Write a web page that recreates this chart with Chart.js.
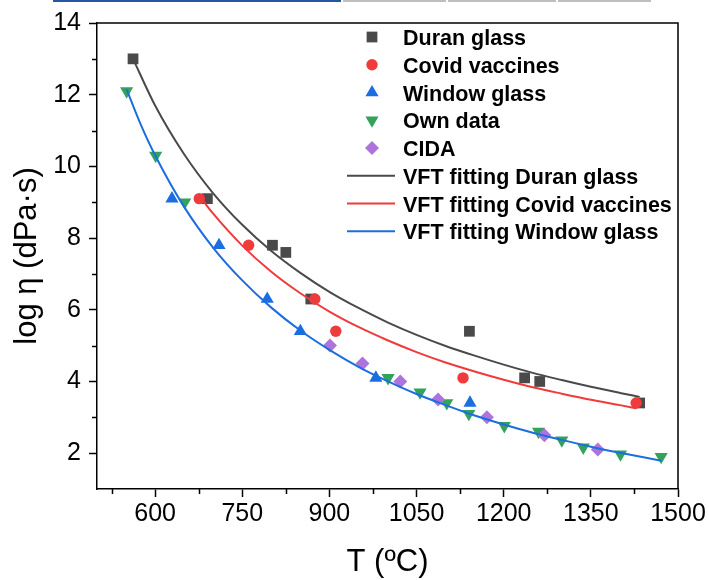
<!DOCTYPE html>
<html>
<head>
<meta charset="utf-8">
<script src="https://cdn.jsdelivr.net/npm/chart.js@4/dist/chart.umd.min.js"></script>
<style>
  html, body { margin: 0; padding: 0; background: #fff; }
</style>
</head>
<body>
<canvas id="vftChart" width="709" height="580"></canvas>
<script>
// measured viscosity points, T in ºC, log eta in dPa·s
var duranT = [562, 690, 802, 825, 868, 1141, 1236, 1262, 1434];
var duranLogEta = [13.0, 9.1, 7.8, 7.6, 6.3, 5.4, 4.1, 4.0, 3.4];

var covidT = [676, 761, 875, 911, 1130, 1428];
var covidLogEta = [9.1, 7.8, 6.3, 5.4, 4.1, 3.4];

var windowT = [629, 710, 793, 850, 980, 1142];
var windowLogEta = [9.1, 7.8, 6.3, 5.4, 4.1, 3.4];

var ownT = [551, 601, 651, 1001, 1056, 1102, 1140, 1201, 1260, 1300, 1337, 1401, 1471];
var ownLogEta = [12.1, 10.3, 9.0, 4.1, 3.7, 3.4, 3.1, 2.76, 2.6, 2.36, 2.16, 1.97, 1.9];

var cidaT = [901, 957, 1022, 1087, 1171, 1270, 1362];
var cidaLogEta = [5.0, 4.5, 4.0, 3.5, 3.0, 2.5, 2.1];

// VFT fitted curves, sampled along T
var duranFitT = [562, 600, 650, 700, 750, 800, 850, 900, 950, 1000, 1050, 1100, 1150, 1200, 1250, 1300, 1350, 1400, 1434];
var duranFitLogEta = [13.0, 11.7, 10.34, 9.25, 8.37, 7.64, 7.03, 6.5, 6.05, 5.65, 5.3, 4.99, 4.72, 4.47, 4.24, 4.04, 3.85, 3.68, 3.57];

var covidFitT = [676, 700, 750, 800, 850, 900, 950, 1000, 1050, 1100, 1150, 1200, 1250, 1300, 1350, 1400, 1428];
var covidFitLogEta = [9.18, 8.68, 7.79, 7.06, 6.46, 5.95, 5.52, 5.15, 4.82, 4.53, 4.28, 4.05, 3.84, 3.66, 3.49, 3.34, 3.25];

var windowFitT = [551, 575, 600, 650, 700, 750, 800, 850, 900, 950, 1000, 1050, 1100, 1150, 1200, 1250, 1300, 1350, 1400, 1471];
var windowFitLogEta = [12.15, 11.18, 10.31, 8.87, 7.73, 6.82, 6.06, 5.42, 4.88, 4.41, 4.01, 3.65, 3.34, 3.05, 2.8, 2.57, 2.37, 2.18, 2.01, 1.79];

// axis ticks
var xTicks = [600, 750, 900, 1050, 1200, 1350, 1500];
var xMinorTicks = [525, 675, 825, 975, 1125, 1275, 1425];
var yTicks = [2, 4, 6, 8, 10, 12, 14];
var yMinorTicks = [3, 5, 7, 9, 11, 13];

var FONT = '"Liberation Sans", Arial, sans-serif';

function pts(xs, ys) {
    return xs.map(function (x, i) { return { x: x, y: ys[i] }; });
}

function drawMarker(ctx, style, rot, x, y, r) {
    ctx.beginPath();
    if (style === 'circle') {
        ctx.arc(x, y, r, 0, Math.PI * 2);
    } else if (style === 'rect') {
        var s = r * Math.SQRT1_2;
        ctx.rect(x - s, y - s, 2 * s, 2 * s);
    } else if (style === 'rectRot') {
        ctx.moveTo(x - r, y);
        ctx.lineTo(x, y - r);
        ctx.lineTo(x + r, y);
        ctx.lineTo(x, y + r);
        ctx.closePath();
    } else if (style === 'triangle') {
        var d = rot === 180 ? -1 : 1;
        ctx.moveTo(x, y - d * r);
        ctx.lineTo(x + 0.866 * r, y + d * 0.5 * r);
        ctx.lineTo(x - 0.866 * r, y + d * 0.5 * r);
        ctx.closePath();
    }
    ctx.fill();
}

// frame, minor ticks, legend box and the strip at the very top
var extrasPlugin = {
    id: 'extras',
    beforeDraw: function (chart) {
        var ctx = chart.ctx;
        ctx.save();
        ctx.fillStyle = '#2456a5';
        ctx.fillRect(53, 0, 288, 2);
        ctx.fillStyle = '#bebebe';
        ctx.fillRect(343, 0, 103, 2);
        ctx.fillRect(448, 0, 108, 2);
        ctx.fillRect(558, 0, 93, 2);
        ctx.restore();
    },
    afterDraw: function (chart) {
        var ctx = chart.ctx, a = chart.chartArea;
        var xs = chart.scales.x, ys = chart.scales.y;
        ctx.save();
        ctx.strokeStyle = '#000';
        ctx.lineWidth = 1.5;
        ctx.beginPath();
        ctx.moveTo(a.left, a.top);
        ctx.lineTo(a.right, a.top);
        ctx.lineTo(a.right, a.bottom);
        ctx.stroke();

        ctx.beginPath();
        xMinorTicks.forEach(function (v) {
            var px = Math.round(xs.getPixelForValue(v)) + 0.5;
            ctx.moveTo(px, a.bottom);
            ctx.lineTo(px, a.bottom + 5);
        });
        yMinorTicks.forEach(function (v) {
            var py = Math.round(ys.getPixelForValue(v)) + 0.5;
            ctx.moveTo(a.left, py);
            ctx.lineTo(a.left - 5, py);
        });
        ctx.stroke();

        // legend
        var lx = 372, ly = 37, step = 27.75;
        ctx.font = 'bold 21.5px ' + FONT;
        ctx.textAlign = 'left';
        ctx.textBaseline = 'alphabetic';
        chart.data.datasets.forEach(function (ds, i) {
            var y = ly + i * step;
            if (ds.showLine) {
                ctx.strokeStyle = ds.borderColor;
                ctx.lineWidth = 2;
                ctx.beginPath();
                ctx.moveTo(lx - 25, y);
                ctx.lineTo(lx + 23, y);
                ctx.stroke();
            } else {
                ctx.fillStyle = ds.backgroundColor;
                drawMarker(ctx, ds.pointStyle, ds.rotation || 0, lx, y, ds.pointRadius);
            }
            ctx.fillStyle = '#000';
            ctx.fillText(ds.label, 403, y + 8);
        });
        ctx.restore();
    }
};

function markerSet(label, xs, ys, color, style, radius, rot, order) {
    return {
        label: label,
        data: pts(xs, ys),
        backgroundColor: color,
        borderColor: color,
        pointStyle: style,
        pointRadius: radius,
        pointRotation: rot,
        rotation: rot,
        pointBorderWidth: 0,
        showLine: false,
        order: order
    };
}

function fitSet(label, xs, ys, color, order) {
    return {
        label: label,
        data: pts(xs, ys),
        borderColor: color,
        backgroundColor: color,
        borderWidth: 2,
        pointRadius: 0,
        showLine: true,
        cubicInterpolationMode: 'monotone',
        order: order
    };
}

function plainTick(value) {
    return String(value);
}

new Chart(document.getElementById('vftChart'), {
    type: 'scatter',
    data: {
        datasets: [
            markerSet('Duran glass', duranT, duranLogEta, '#4a4a4a', 'rect', 7.6, 0, 8),
            markerSet('Covid vaccines', covidT, covidLogEta, '#ef3b3b', 'circle', 5.7, 0, 7),
            markerSet('Window glass', windowT, windowLogEta, '#1c6ee0', 'triangle', 7.6, 0, 6),
            markerSet('Own data', ownT, ownLogEta, '#33a25d', 'triangle', 7.6, 180, 5),
            markerSet('CIDA', cidaT, cidaLogEta, '#ae74dd', 'rectRot', 7, 0, 4),
            fitSet('VFT fitting Duran glass', duranFitT, duranFitLogEta, '#4a4a4a', 3),
            fitSet('VFT fitting Covid vaccines', covidFitT, covidFitLogEta, '#ef3b3b', 2),
            fitSet('VFT fitting Window glass', windowFitT, windowFitLogEta, '#1c6ee0', 1)
        ]
    },
    options: {
        responsive: false,
        animation: false,
        layout: { padding: { left: 0, top: 22, right: 31, bottom: 0 } },
        plugins: {
            legend: { display: false },
            tooltip: { enabled: false }
        },
        scales: {
            x: {
                type: 'linear',
                min: 500,
                max: 1500,
                afterBuildTicks: function (s) {
                    s.ticks = xTicks.map(function (v) { return { value: v }; });
                },
                afterFit: function (s) { s.height = 91; },
                ticks: {
                    color: '#000',
                    font: { family: FONT, size: 25 },
                    padding: 2,
                    maxRotation: 0,
                    autoSkip: false,
                    callback: plainTick
                },
                grid: {
                    display: true,
                    drawOnChartArea: false,
                    drawTicks: true,
                    tickLength: 8,
                    tickColor: '#000',
                    tickWidth: 1.5
                },
                border: { display: true, color: '#000', width: 1.5 },
                title: {
                    display: true,
                    text: 'T (ºC)',
                    color: '#000',
                    font: { family: FONT, size: 31, lineHeight: 1.1 },
                    padding: { top: 0, bottom: 0 }
                }
            },
            y: {
                type: 'linear',
                min: 1,
                max: 14,
                afterBuildTicks: function (s) {
                    s.ticks = yTicks.map(function (v) { return { value: v }; });
                },
                afterFit: function (s) { s.width = 97; },
                ticks: {
                    color: '#000',
                    font: { family: FONT, size: 25 },
                    padding: 8,
                    callback: plainTick
                },
                grid: {
                    display: true,
                    drawOnChartArea: false,
                    drawTicks: true,
                    tickLength: 8,
                    tickColor: '#000',
                    tickWidth: 1.5
                },
                border: { display: true, color: '#000', width: 1.5 },
                title: {
                    display: true,
                    text: 'log η (dPa·s)',
                    color: '#000',
                    font: { family: FONT, size: 31, lineHeight: 1.1 },
                    padding: { top: 10.5, bottom: 0 }
                }
            }
        }
    },
    plugins: [extrasPlugin]
});
</script>
</body>
</html>
